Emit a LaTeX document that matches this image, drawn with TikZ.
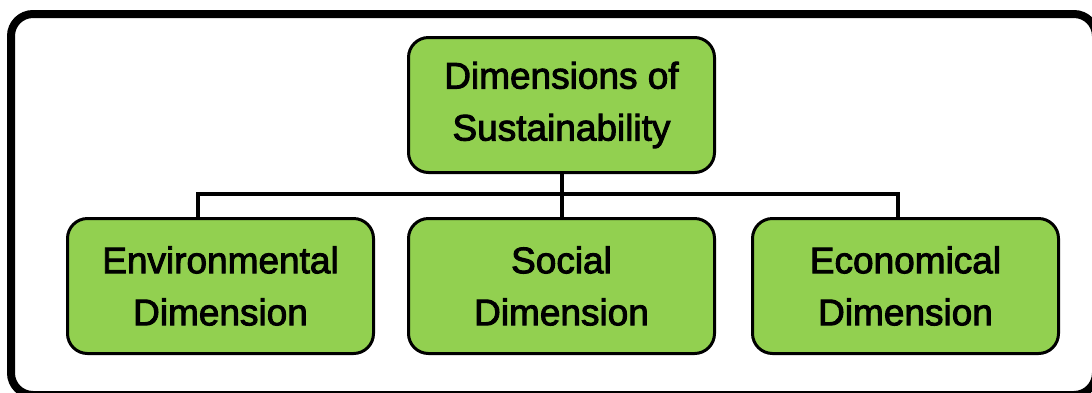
\documentclass[tikz,border=0pt]{standalone}
\usepackage{fontspec}
\setmainfont{Liberation Sans}
\newfontfamily\boxfont[FakeBold=2.5]{Liberation Sans}
\definecolor{boxgreen}{HTML}{92D050}
\begin{document}
\begin{tikzpicture}[x=1pt,y=-1pt,
  dimbox/.style={draw=black, fill=boxgreen, line width=3pt, rounded corners=20pt,
    minimum width=306pt, minimum height=135pt, inner sep=0pt, align=center,
    font=\boxfont\fontsize{37}{52}\selectfont},
  link/.style={draw=black, line width=4pt}]
\useasboundingbox (0,0) rectangle (1092,392);
\begin{scope}
\clip (0,0) rectangle (1092,392);
\draw[line width=8pt, rounded corners=22pt] (11,14) rectangle (1096,395);
\end{scope}
\node[dimbox] (top) at (561.5,105) {Dimensions of\\Sustainability};
\node[dimbox] (env) at (220.5,286) {Environmental\\Dimension};
\node[dimbox] (soc) at (561.5,286) {Social\\Dimension};
\node[dimbox] (eco) at (905.5,286) {Economical\\Dimension};
\coordinate (bus) at (561.5,194);
\coordinate (jl) at (198,194);
\coordinate (jr) at (898,194);
\draw[link] (top.south) -- (bus);
\draw[link] (bus) -- (soc.north);
\draw[link] (jl |- env.north) -- (jl) -- (jr) -- (jr |- eco.north);
\end{tikzpicture}
\end{document}
